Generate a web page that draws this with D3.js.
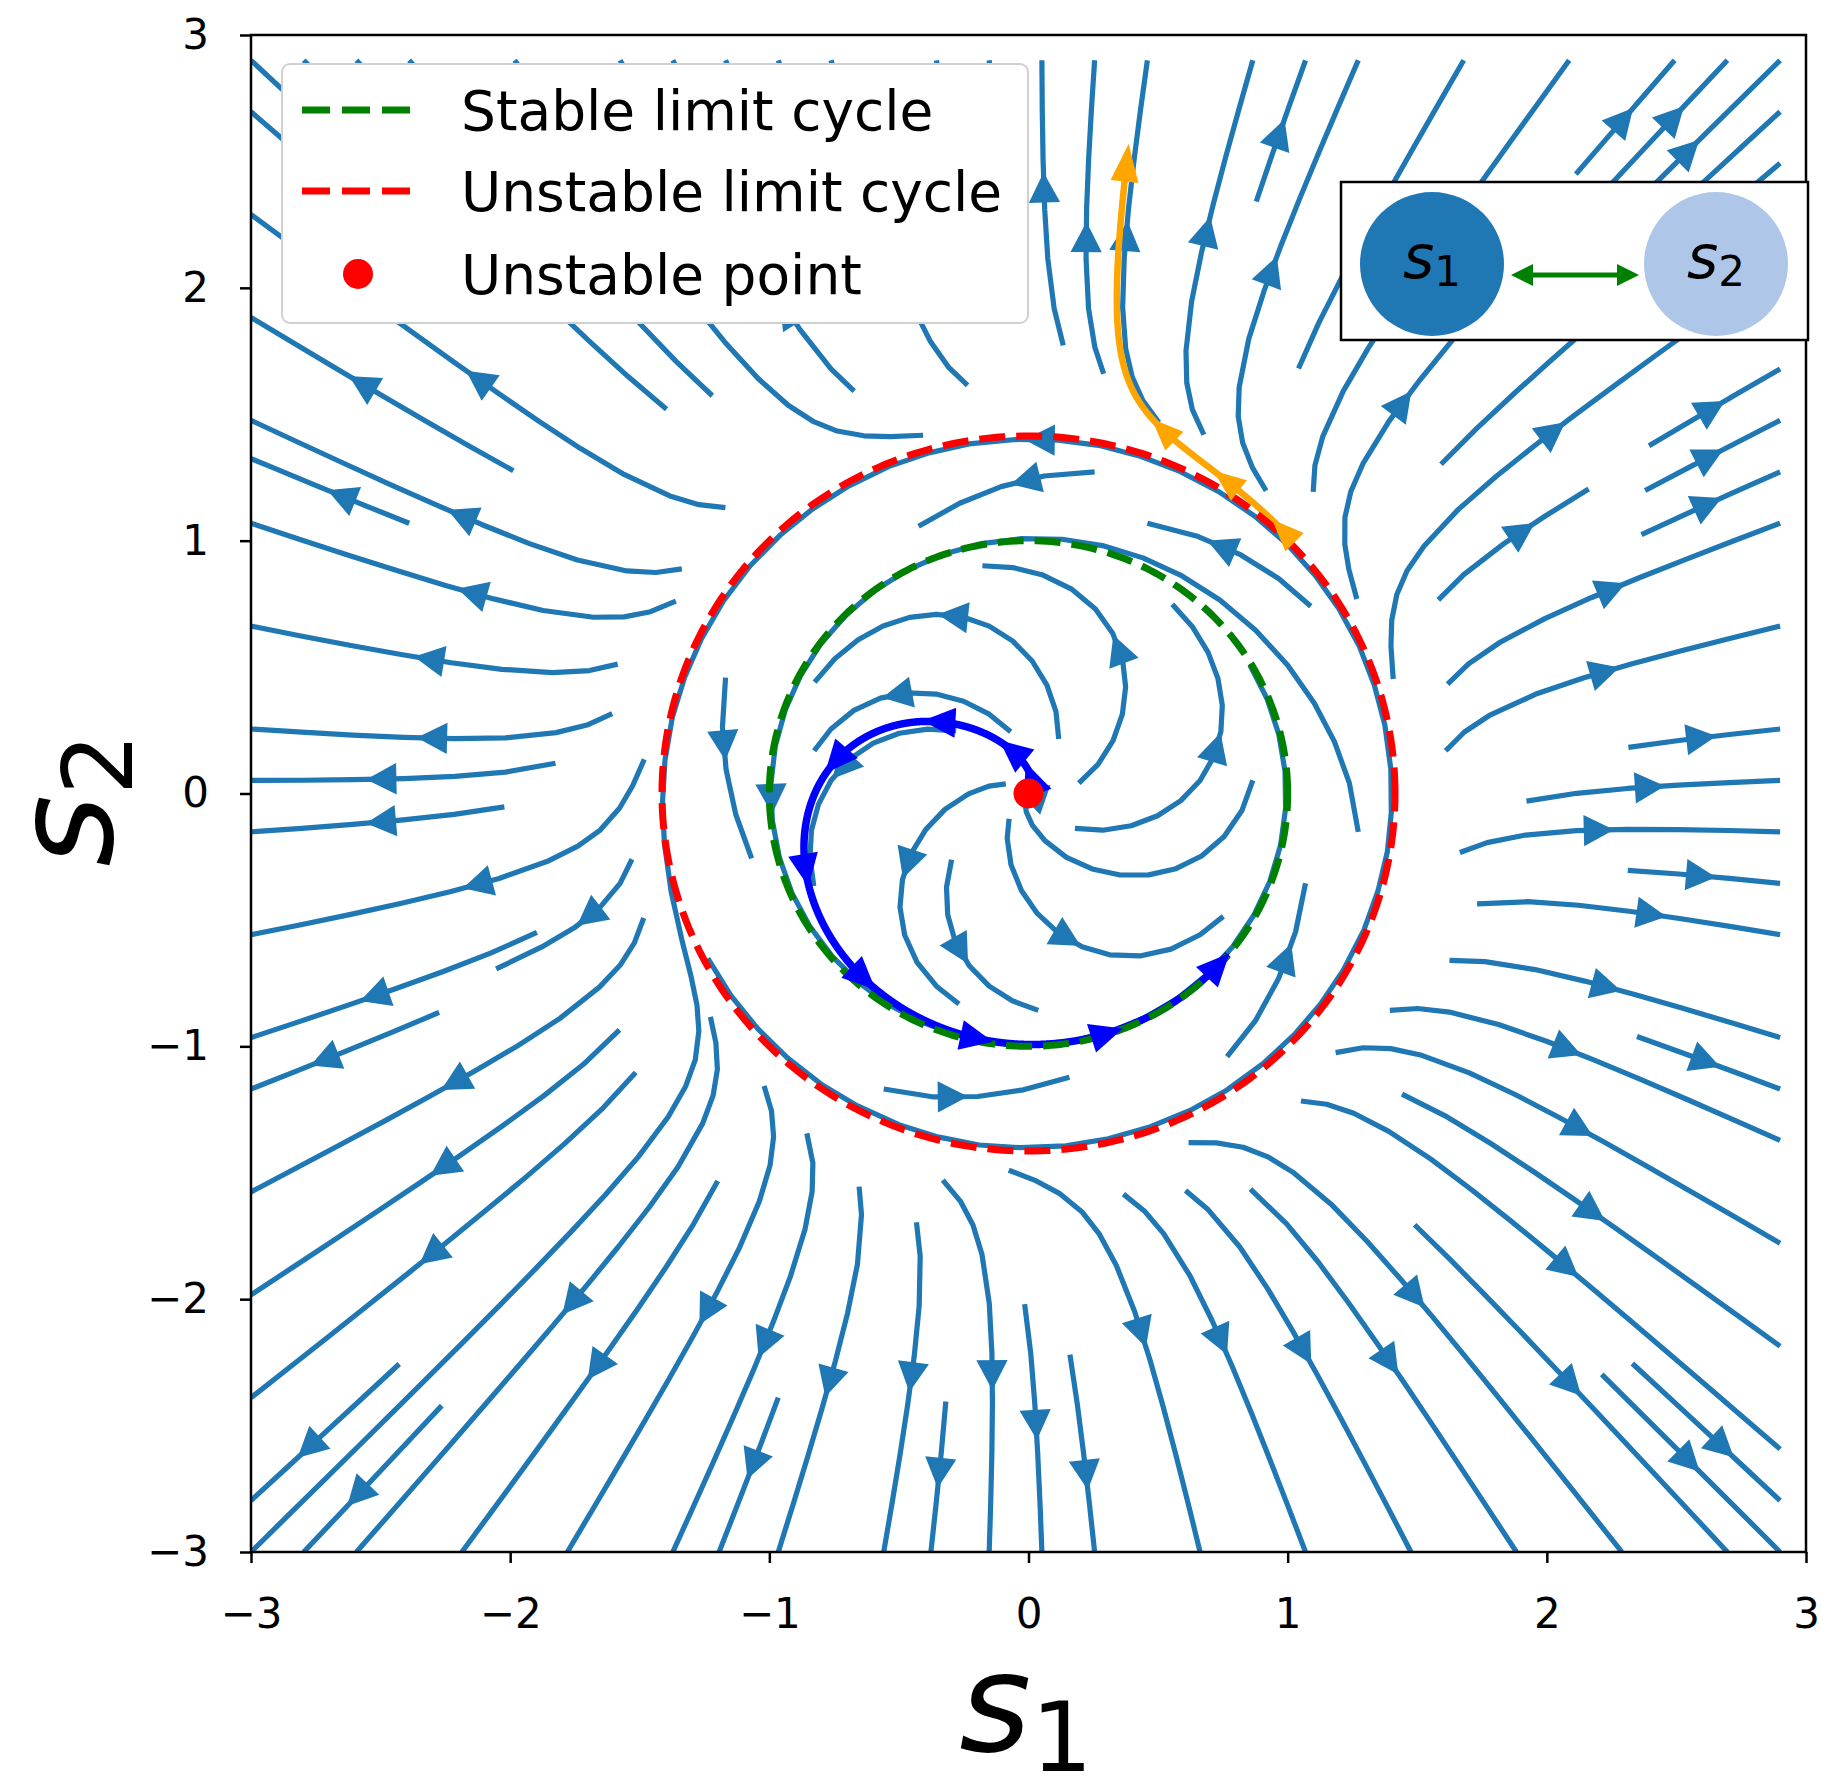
<!DOCTYPE html>
<html><head><meta charset="utf-8">
<script src="https://cdn.jsdelivr.net/npm/d3@7"></script>
<style>
html,body{margin:0;padding:0;background:#fff;}
svg{display:block;font-family:"DejaVu Sans",sans-serif;}
</style></head><body>
<svg id="chart" width="1821" height="1780"></svg>
<script>
// ---------------- data ----------------
const axisTicks = [-3, -2, -1, 0, 1, 2, 3];
const axisDomain = [-3, 3];
const gridRange = [-3, 2.9];          // sampling grid of the vector field (arange(-3,3,0.1))
const gridCount = [60];
const cycleRadii = [1, 1.41421356];   // stable, unstable limit cycle radius
const rotationRate = [1];
const streamDensity = [1];
const orangeStart = [1.0165, 1.003];
const orangeEndRadius = [2.5];
const orangeArrowTimes = [0.045, 0.25, 0.455];
const blueStart = [0.009, 0.069];
const blueDuration = [4.15];
const blueArrowTimes = [0, 0.513, 1.026, 1.539, 2.052, 2.565, 3.078, 3.591, 4.104];
const legendLabels = ["Stable limit cycle", "Unstable limit cycle", "Unstable point"];
const legendColors = ["green", "red", "red"];
const nodeLabels = [["s", "1"], ["s", "2"]];
const nodeColors = ["#1f77b4", "#aec7e8"];

// --------------- vector field ---------------
function field(s1, s2) {
  const r2 = s1 * s1 + s2 * s2;
  const h = (r2 - cycleRadii[0] ** 2) * (r2 - cycleRadii[1] ** 2);
  return [s1 * h - rotationRate[0] * s2, s2 * h + rotationRate[0] * s1];
}

function pyRound(v) {
  const f = Math.floor(v), d = v - f;
  if (d > 0.5) return f + 1;
  if (d < 0.5) return f;
  return (f % 2 === 0) ? f : f + 1;
}

// --------------- streamplot (matplotlib algorithm) ---------------
function streamplot(xv, yv, U, V, density) {
  const nx = xv.length, ny = yv.length;
  const dx = xv[1] - xv[0], dy = yv[1] - yv[0];
  const xOrigin = xv[0], yOrigin = yv[0];
  const mnx = Math.floor(30 * density), mny = Math.floor(30 * density);
  const mask = Array.from({length: mny}, () => new Uint8Array(mnx));
  const xg2m = (mnx - 1) / (nx - 1), yg2m = (mny - 1) / (ny - 1);
  const xm2g = 1 / xg2m, ym2g = 1 / yg2m;
  const minlength = 0.1, maxlength = 4.0;
  const ug = [], vg = [], sp = [];
  for (let j = 0; j < ny; j++) {
    ug.push(new Float64Array(nx)); vg.push(new Float64Array(nx)); sp.push(new Float64Array(nx));
    for (let i = 0; i < nx; i++) {
      ug[j][i] = U[j][i] / dx; vg[j][i] = V[j][i] / dy;
      const ua = ug[j][i] / (nx - 1), va = vg[j][i] / (ny - 1);
      sp[j][i] = Math.sqrt(ua * ua + va * va);
    }
  }
  const OOB = {k: 1}, TERM = {k: 2}, INV = {k: 3};
  const within = (xi, yi) => xi >= 0 && xi <= nx - 1 && yi >= 0 && yi <= ny - 1;
  function interp(a, xi, yi) {
    const x = Math.trunc(xi), y = Math.trunc(yi);
    const xn = x === nx - 1 ? x : x + 1, yn = y === ny - 1 ? y : y + 1;
    const xt = xi - x, yt = yi - y;
    const a0 = a[y][x] * (1 - xt) + a[y][xn] * xt;
    const a1 = a[yn][x] * (1 - xt) + a[yn][xn] * xt;
    return a0 * (1 - yt) + a1 * yt;
  }
  let curXY = null, trajCells = [];
  const grid2mask = (xi, yi) => [pyRound(xi * xg2m), pyRound(yi * yg2m)];
  function updateMask(xm, ym) {
    if (!curXY || curXY[0] !== xm || curXY[1] !== ym) {
      if (mask[ym][xm] === 0) { trajCells.push([ym, xm]); mask[ym][xm] = 1; curXY = [xm, ym]; }
      else throw INV;
    }
  }
  function startTraj(xg, yg) { const m = grid2mask(xg, yg); trajCells = []; updateMask(m[0], m[1]); }
  function resetStart(xg, yg) { curXY = grid2mask(xg, yg); }
  function updateTraj(xg, yg) { if (!within(xg, yg)) throw INV; const m = grid2mask(xg, yg); updateMask(m[0], m[1]); }
  function undoTraj() { for (const c of trajCells) mask[c[0]][c[1]] = 0; }
  function fwd(xi, yi) {
    if (!within(xi, yi)) throw OOB;
    const dsdt = interp(sp, xi, yi);
    if (dsdt === 0) throw TERM;
    const dtds = 1 / dsdt;
    return [interp(ug, xi, yi) * dtds, interp(vg, xi, yi) * dtds];
  }
  function bwd(xi, yi) { const r = fwd(xi, yi); return [-r[0], -r[1]]; }
  function euler(traj, f) {
    const [xi, yi] = traj[traj.length - 1];
    const [cx, cy] = f(xi, yi);
    let dsx, dsy;
    if (cx === 0) dsx = Infinity; else if (cx < 0) dsx = xi / -cx; else dsx = (nx - 1 - xi) / cx;
    if (cy === 0) dsy = Infinity; else if (cy < 0) dsy = yi / -cy; else dsy = (ny - 1 - yi) / cy;
    const ds = Math.min(dsx, dsy);
    traj.push([xi + cx * ds, yi + cy * ds]);
    return ds;
  }
  function rk12(x0, y0, f) {
    const maxerror = 0.003;
    const maxds = Math.min(1 / mnx, 1 / mny, 0.1);
    let ds = maxds, stotal = 0, xi = x0, yi = y0;
    const traj = [];
    while (true) {
      let k1, k2;
      try {
        if (within(xi, yi)) traj.push([xi, yi]); else throw OOB;
        k1 = f(xi, yi);
        k2 = f(xi + ds * k1[0], yi + ds * k1[1]);
      } catch (e) {
        if (e === OOB) { if (traj.length) { ds = euler(traj, f); stotal += ds; } break; }
        if (e === TERM) break;
        throw e;
      }
      const dx1 = ds * k1[0], dy1 = ds * k1[1];
      const dx2 = ds * 0.5 * (k1[0] + k2[0]), dy2 = ds * 0.5 * (k1[1] + k2[1]);
      const error = Math.hypot((dx2 - dx1) / (nx - 1), (dy2 - dy1) / (ny - 1));
      if (error < maxerror) {
        xi += dx2; yi += dy2;
        try { updateTraj(xi, yi); } catch (e) { if (e === INV) break; throw e; }
        if (stotal + ds > maxlength) break;
        stotal += ds;
      }
      if (error === 0) ds = maxds;
      else ds = Math.min(maxds, 0.85 * ds * Math.sqrt(maxerror / error));
    }
    return [stotal, traj];
  }
  function integrate(x0, y0) {
    let stotal = 0, xy = [];
    try { startTraj(x0, y0); } catch (e) { if (e === INV) return null; throw e; }
    let r = rk12(x0, y0, bwd);
    stotal += r[0]; xy = r[1].slice().reverse();
    resetStart(x0, y0);
    r = rk12(x0, y0, fwd);
    stotal += r[0]; xy = xy.concat(r[1].slice(1));
    if (stotal > minlength) return xy;
    undoTraj(); return null;
  }
  const starts = [];
  {
    let xfirst = 0, yfirst = 1, xlast = mnx - 1, ylast = mny - 1, x = 0, y = 0, dir = 0;
    for (let i = 0; i < mnx * mny; i++) {
      starts.push([x, y]);
      if (dir === 0) { x++; if (x >= xlast) { xlast--; dir = 1; } }
      else if (dir === 1) { y++; if (y >= ylast) { ylast--; dir = 2; } }
      else if (dir === 2) { x--; if (x <= xfirst) { xfirst++; dir = 3; } }
      else { y--; if (y <= yfirst) { yfirst++; dir = 0; } }
    }
  }
  const trajs = [];
  for (const [xm, ym] of starts) {
    if (mask[ym][xm] === 0) {
      const t = integrate(xm * xm2g, ym * ym2g);
      if (t) trajs.push(t);
    }
  }
  return trajs.map(t => t.map(([gx, gy]) => [gx * dx + xOrigin, gy * dy + yOrigin]));
}

// --------------- build field on grid ---------------
const N = gridCount[0];
const gx = d3.range(N).map(i => gridRange[0] + i * 0.1);
const gy = gx.slice();
const U = gy.map(yv => gx.map(xv => field(xv, yv)[0]));
const V = gy.map(yv => gx.map(xv => field(xv, yv)[1]));
const streams = streamplot(gx, gy, U, V, streamDensity[0]);

// --------------- drawing ---------------
const svg = d3.select("#chart");
const plot = {left: 251, right: 1806, top: 35, bottom: 1552};
const x = d3.scaleLinear().domain(axisDomain).range([plot.left, plot.right]);
const y = d3.scaleLinear().domain(axisDomain).range([plot.bottom, plot.top]);

svg.append("defs").append("clipPath").attr("id", "clip")
  .append("rect").attr("x", plot.left).attr("y", plot.top)
  .attr("width", plot.right - plot.left).attr("height", plot.bottom - plot.top);

const gPlot = svg.append("g").attr("clip-path", "url(#clip)");
const line = d3.line().x(d => x(d[0])).y(d => y(d[1]));

function headPoly(tip, dir, L, W) {
  const n = [-dir[1], dir[0]];
  const b = [tip[0] - dir[0] * L, tip[1] - dir[1] * L];
  return [tip, [b[0] + n[0] * W, b[1] + n[1] * W], [b[0] - n[0] * W, b[1] - n[1] * W]];
}
function unit(v) { const l = Math.hypot(v[0], v[1]) || 1; return [v[0] / l, v[1] / l]; }

const streamColor = "#1f77b4";
gPlot.append("g").selectAll("path").data(streams).join("path")
  .attr("d", line).attr("fill", "none").attr("stroke", streamColor)
  .attr("stroke-width", 5.2).attr("stroke-linejoin", "round");

const arrowData = streams.map(t => {
  const cum = [];
  let s = 0;
  for (let i = 1; i < t.length; i++) { s += Math.hypot(t[i][0] - t[i - 1][0], t[i][1] - t[i - 1][1]); cum.push(s); }
  const half = s / 2;
  let n = cum.findIndex(c => c >= half); if (n < 0) n = cum.length;
  const tail = t[n], nxt = t[Math.min(n + 1, t.length - 1)];
  const head = [(tail[0] + nxt[0]) / 2, (tail[1] + nxt[1]) / 2];
  const dpx = unit([x(nxt[0]) - x(tail[0]), y(nxt[1]) - y(tail[1])]);
  const tip = [x(head[0]) + dpx[0] * 10, y(head[1]) + dpx[1] * 10];
  return headPoly(tip, dpx, 27, 14);
});
gPlot.append("g").selectAll("path").data(arrowData).join("path")
  .attr("d", d => "M" + d.map(p => p.join(",")).join("L") + "Z")
  .attr("fill", streamColor).attr("stroke", streamColor).attr("stroke-width", 2).attr("stroke-linejoin", "miter");

function rk4(start, tEnd, stopR, dt) {
  let p = start.slice(), t = 0;
  const pts = [{t: 0, p: p.slice()}];
  while (t < tEnd) {
    const k1 = field(p[0], p[1]);
    const k2 = field(p[0] + dt / 2 * k1[0], p[1] + dt / 2 * k1[1]);
    const k3 = field(p[0] + dt / 2 * k2[0], p[1] + dt / 2 * k2[1]);
    const k4 = field(p[0] + dt * k3[0], p[1] + dt * k3[1]);
    p = [p[0] + dt / 6 * (k1[0] + 2 * k2[0] + 2 * k3[0] + k4[0]),
         p[1] + dt / 6 * (k1[1] + 2 * k2[1] + 2 * k3[1] + k4[1])];
    t += dt;
    pts.push({t, p: p.slice()});
    if (stopR && Math.hypot(p[0], p[1]) >= stopR) break;
  }
  return pts;
}
function trajArrow(pts, t, L, W, fwdOff) {
  let best = pts[0];
  for (const q of pts) if (Math.abs(q.t - t) < Math.abs(best.t - t)) best = q;
  const f = field(best.p[0], best.p[1]);
  const d = unit([f[0] * (x(1) - x(0)), -f[1] * (y(0) - y(1))]);
  const tip = [x(best.p[0]) + d[0] * fwdOff, y(best.p[1]) + d[1] * fwdOff];
  return headPoly(tip, d, L, W);
}

const bluePts = rk4(blueStart, blueDuration[0], null, 0.001);
const orangePts = rk4(orangeStart, 50, orangeEndRadius[0], 0.0002);
const gTraj = svg.append("g").attr("clip-path", "url(#clip)");
gTraj.append("path").attr("d", line(bluePts.map(q => q.p))).attr("fill", "none")
  .attr("stroke", "#0000ff").attr("stroke-width", 7.5).attr("stroke-linejoin", "round");
gTraj.append("path").attr("d", line(orangePts.map(q => q.p))).attr("fill", "none")
  .attr("stroke", "#ffa500").attr("stroke-width", 6.5).attr("stroke-linejoin", "round");

const angles = d3.range(0, 361, 1).map(a => a * Math.PI / 180);
[[cycleRadii[1], "red"], [cycleRadii[0], "green"]].forEach(([r, c]) => {
  gTraj.append("path").attr("d", line(angles.map(a => [r * Math.cos(a), r * Math.sin(a)])))
    .attr("fill", "none").attr("stroke", c).attr("stroke-width", 7)
    .attr("stroke-dasharray", "26,11");
});

const blueHeads = blueArrowTimes.map(t => trajArrow(bluePts, t, 33, 15, 14));
const orangeHeads = orangeArrowTimes.map(t => trajArrow(orangePts, t, 32, 13, 12));
const oEnd = orangePts[orangePts.length - 1];
orangeHeads.push(trajArrow(orangePts, oEnd.t, 38, 14, 24));
gTraj.append("g").selectAll("path").data(blueHeads).join("path")
  .attr("d", d => "M" + d.map(p => p.join(",")).join("L") + "Z").attr("fill", "#0000ff");
gTraj.append("g").selectAll("path").data(orangeHeads).join("path")
  .attr("d", d => "M" + d.map(p => p.join(",")).join("L") + "Z").attr("fill", "#ffa500");

svg.append("circle").attr("cx", x(0)).attr("cy", y(0)).attr("r", 15).attr("fill", "red");

const fmt = d => d < 0 ? "\u2212" + Math.abs(d) : String(d);
const xAxis = svg.append("g").attr("transform", `translate(0,${plot.bottom})`)
  .call(d3.axisBottom(x).tickValues(axisTicks).tickFormat(fmt).tickSize(11).tickPadding(35));
const yAxis = svg.append("g").attr("transform", `translate(${plot.left},0)`)
  .call(d3.axisLeft(y).tickValues(axisTicks).tickFormat(fmt).tickSize(11).tickPadding(31));
[xAxis, yAxis].forEach(g => {
  g.select(".domain").remove();
  g.selectAll("line").attr("stroke", "#000").attr("stroke-width", 2.5);
  g.selectAll("text").attr("font-size", 42).attr("font-family", "DejaVu Sans").attr("fill", "#000");
});
svg.append("rect").attr("x", plot.left).attr("y", plot.top)
  .attr("width", plot.right - plot.left).attr("height", plot.bottom - plot.top)
  .attr("fill", "none").attr("stroke", "#000").attr("stroke-width", 2.5);

const xl = svg.append("text").attr("x", 1026).attr("y", 1751).attr("text-anchor", "middle")
  .attr("font-size", 138).attr("fill", "#000");
xl.append("tspan").attr("font-style", "italic").text("s");
xl.append("tspan").attr("font-size", 97).attr("dy", 20).text("1");
const yl = svg.append("text").attr("transform", "translate(112,800) rotate(-90)")
  .attr("text-anchor", "middle").attr("font-size", 138).attr("fill", "#000");
yl.append("tspan").attr("font-style", "italic").text("s");
yl.append("tspan").attr("font-size", 97).attr("dy", 20).text("2");

const lg = svg.append("g");
lg.append("rect").attr("x", 282).attr("y", 64).attr("width", 746).attr("height", 259).attr("rx", 8)
  .attr("fill", "#fff").attr("stroke", "#d0d0d0").attr("stroke-width", 2);
const rowY = [110, 191, 274];
legendLabels.forEach((lab, i) => {
  if (i < 2) {
    lg.append("line").attr("x1", 302).attr("x2", 412).attr("y1", rowY[i]).attr("y2", rowY[i])
      .attr("stroke", legendColors[i]).attr("stroke-width", 7).attr("stroke-dasharray", "28,12");
  } else {
    lg.append("circle").attr("cx", 358).attr("cy", rowY[i]).attr("r", 15).attr("fill", legendColors[i]);
  }
  lg.append("text").attr("x", 461).attr("y", rowY[i] + 20).attr("font-size", 55).attr("fill", "#000").text(lab);
});

const ins = svg.append("g");
ins.append("rect").attr("x", 1341).attr("y", 182).attr("width", 467).attr("height", 158)
  .attr("fill", "#fff").attr("stroke", "#000").attr("stroke-width", 2.5);
const nodeX = [1432, 1716];
nodeLabels.forEach((lab, i) => {
  ins.append("circle").attr("cx", nodeX[i]).attr("cy", 264).attr("r", 72).attr("fill", nodeColors[i]);
  const t = ins.append("text").attr("x", nodeX[i]).attr("y", 278).attr("text-anchor", "middle")
    .attr("font-size", 60).attr("fill", "#000");
  t.append("tspan").attr("font-style", "italic").text(lab[0]);
  t.append("tspan").attr("font-size", 42).attr("dy", 8).text(lab[1]);
});
ins.append("line").attr("x1", 1525).attr("x2", 1625).attr("y1", 275).attr("y2", 275)
  .attr("stroke", "green").attr("stroke-width", 5);
[[1511, -1], [1639, 1]].forEach(([tx, s]) => {
  ins.append("path").attr("d", "M" + headPoly([tx, 275], [s, 0], 22, 11).map(p => p.join(",")).join("L") + "Z")
    .attr("fill", "green");
});
</script>
</body></html>
